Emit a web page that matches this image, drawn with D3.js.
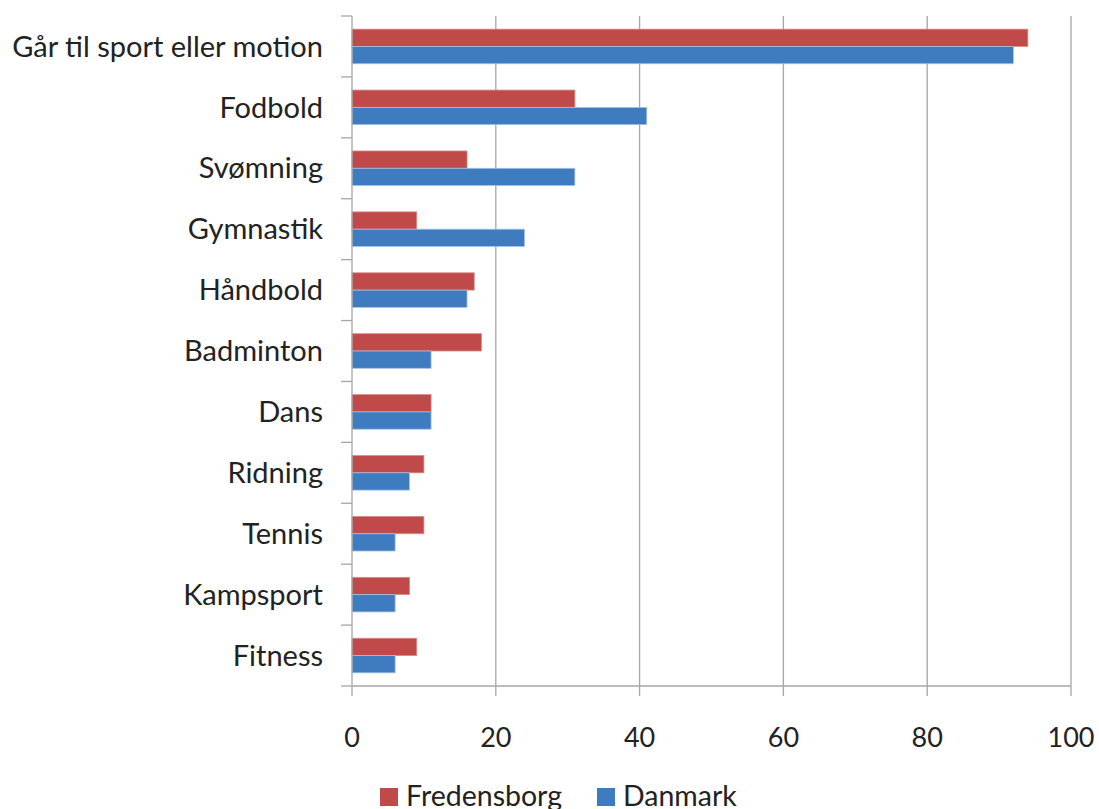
<!DOCTYPE html>
<html><head><meta charset="utf-8">
<script src="https://cdn.jsdelivr.net/npm/d3@7"></script>
<style>body{margin:0;background:#fff}svg{display:block}text{font-family:Lato,"Open Sans",sans-serif;fill:#222}</style>
</head><body>
<svg id="c" width="1099" height="809"></svg>
<script>
const categories = ["Går til sport eller motion","Fodbold","Svømning","Gymnastik","Håndbold","Badminton","Dans","Ridning","Tennis","Kampsport","Fitness"];
const fredensborg = [94,31,16,9,17,18,11,10,10,8,9];
const danmark = [92,41,31,24,16,11,11,8,6,6,6];
const seriesNames = ["Fredensborg","Danmark"];
const xTicks = [0,20,40,60,80,100];

const colors = ["#C0494A","#3F7CBF"];
const svg = d3.select("#c");
const m = {left:352, right:1071, top:16, bottom:686};
const x = d3.scaleLinear().domain([0,100]).range([m.left,m.right]);
const y = d3.scaleBand().domain(categories).range([m.top,m.bottom]);
const inner = d3.scaleBand().domain(seriesNames).range([0,y.bandwidth()]).paddingOuter(0.76).paddingInner(0);

// gridlines
svg.append("g").selectAll("line").data(xTicks.slice(1)).join("line")
  .attr("x1",d=>x(d)).attr("x2",d=>x(d)).attr("y1",m.top).attr("y2",m.bottom+10)
  .attr("stroke","#a6a6a6").attr("stroke-width",1.3);
svg.append("line").attr("x1",x(0)).attr("x2",x(0)).attr("y1",m.bottom).attr("y2",m.bottom+10).attr("stroke","#a6a6a6").attr("stroke-width",1.3);

const data = categories.map((c,i)=>({c, vals:[fredensborg[i],danmark[i]]}));
const g = svg.append("g");
data.forEach(d=>{
  d.vals.forEach((v,j)=>{
    g.append("rect").attr("x",x(0)).attr("y",y(d.c)+inner(seriesNames[j]))
     .attr("width",x(v)-x(0)).attr("height",inner.bandwidth())
     .attr("fill",colors[j]).attr("stroke", j===0?"#d98a88":"#a9c4e6").attr("stroke-width",0.8);
  });
});

// left axis
const yTicksPos = d3.range(categories.length+1).map(i=>m.top+i*y.step());
svg.append("g").selectAll("line").data(yTicksPos).join("line")
  .attr("x1",m.left-11).attr("x2",m.left).attr("y1",d=>d).attr("y2",d=>d)
  .attr("stroke","#a6a6a6").attr("stroke-width",1.3);
svg.append("line").attr("x1",m.left).attr("x2",m.left).attr("y1",m.top).attr("y2",m.bottom).attr("stroke","#a6a6a6").attr("stroke-width",1.3);
svg.append("line").attr("x1",m.left).attr("x2",m.right).attr("y1",m.bottom).attr("y2",m.bottom).attr("stroke","#a6a6a6").attr("stroke-width",1.3);

svg.append("g").selectAll("text").data(categories).join("text")
  .attr("x",323).attr("y",d=>y(d)+y.bandwidth()/2).attr("dy","0.35em")
  .attr("text-anchor","end").attr("font-size",29).text(d=>d);

svg.append("g").selectAll("text").data(xTicks).join("text")
  .attr("x",d=>x(d)).attr("y",747).attr("text-anchor","middle").attr("font-size",27).text(d=>d);

// legend
const leg = svg.append("g");
const lx = [380,597];
seriesNames.forEach((s,j)=>{
  leg.append("rect").attr("x",lx[j]).attr("y",788).attr("width",18).attr("height",18).attr("fill",colors[j]);
  leg.append("text").attr("x",lx[j]+26).attr("y",806).attr("font-size",28.5).text(s);
});
</script>
</body></html>
